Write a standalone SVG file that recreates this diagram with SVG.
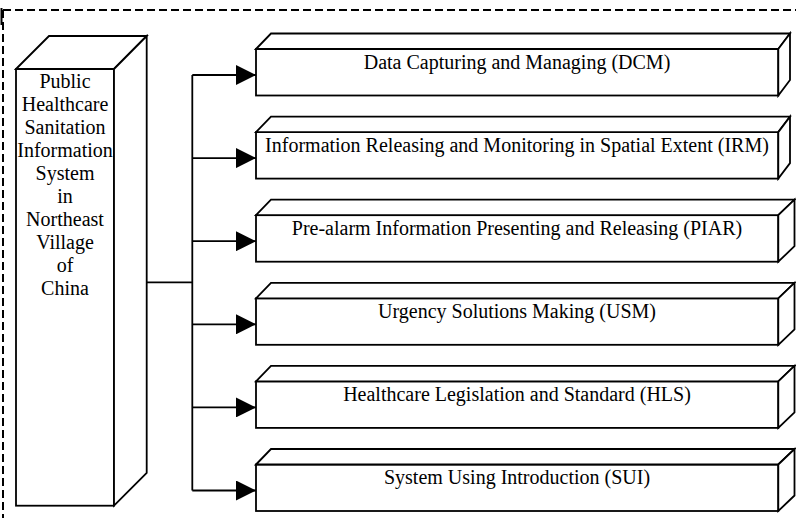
<svg xmlns="http://www.w3.org/2000/svg" width="796" height="518" viewBox="0 0 796 518">
<style>
.f{fill:#fff;stroke:#000;stroke-width:1.8;stroke-linejoin:miter}
.t{font-family:"Liberation Serif","Times New Roman",serif;font-size:20px;fill:#000;text-anchor:middle}
.c{fill:none;stroke:#000;stroke-width:1.8}
.d{fill:none;stroke:#000;stroke-width:2;stroke-dasharray:8 4}
</style>
<defs>
<marker id="ah" markerUnits="userSpaceOnUse" markerWidth="20" markerHeight="20" refX="20" refY="10" orient="auto">
<path d="M0,0 L20,10 L0,20 Z" fill="#000"/>
</marker>
</defs>
<rect width="796" height="518" fill="#fff"/>
<g id="frame">
<path class="d" d="M3,10 H796"/>
<path class="d" d="M3,10 V518"/>
<path d="M1.5,8 V25" stroke="#000" stroke-width="2"/>
</g>
<g id="main">
<rect class="f" x="16" y="69" width="98" height="436.7"/>
<polygon class="f" points="16,69 49,36 146.7,36 114,69"/>
<polygon class="f" points="114,69 146.7,36 146.7,473 114,505.7"/>
<text class="t" x="65" y="88">Public</text>
<text class="t" x="65" y="111">Healthcare</text>
<text class="t" x="65" y="134">Sanitation</text>
<text class="t" x="65" y="157">Information</text>
<text class="t" x="65" y="180">System</text>
<text class="t" x="65" y="203">in</text>
<text class="t" x="65" y="226">Northeast</text>
<text class="t" x="65" y="249">Village</text>
<text class="t" x="65" y="272">of</text>
<text class="t" x="65" y="295">China</text>
</g>
<g id="connectors">
<path class="c" d="M146.7,282.3 H192.3"/>
<path class="c" d="M192.3,75 V490.5"/>
<path class="c" d="M192.3,75 H256" marker-end="url(#ah)"/>
<path class="c" d="M192.3,158.1 H256" marker-end="url(#ah)"/>
<path class="c" d="M192.3,241.2 H256" marker-end="url(#ah)"/>
<path class="c" d="M192.3,324.3 H256" marker-end="url(#ah)"/>
<path class="c" d="M192.3,407.4 H256" marker-end="url(#ah)"/>
<path class="c" d="M192.3,490.5 H256" marker-end="url(#ah)"/>
</g>
<g id="dcm">
<rect class="f" x="256" y="49" width="522.3" height="46.5"/>
<polygon class="f" points="256,49 271,33.5 790,33.5 778.3,49"/>
<polygon class="f" points="778.3,49 790,33.5 790,80 778.3,95.5"/>
<text class="t" x="517" y="68.5">Data Capturing and Managing (DCM)</text>
</g>
<g id="irm">
<rect class="f" x="256" y="132.1" width="522.3" height="46.5"/>
<polygon class="f" points="256,132.1 271,116.6 790,116.6 778.3,132.1"/>
<polygon class="f" points="778.3,132.1 790,116.6 790,163.1 778.3,178.6"/>
<text class="t" x="517" y="151.6">Information Releasing and Monitoring in Spatial Extent (IRM)</text>
</g>
<g id="piar">
<rect class="f" x="256" y="215.2" width="522.3" height="46.5"/>
<polygon class="f" points="256,215.2 271,199.7 794.5,199.7 778.3,215.2"/>
<polygon class="f" points="778.3,215.2 794.5,199.7 794.5,246.2 778.3,261.7"/>
<text class="t" x="517" y="234.7">Pre-alarm Information Presenting and Releasing (PIAR)</text>
</g>
<g id="usm">
<rect class="f" x="256" y="298.3" width="522.3" height="46.5"/>
<polygon class="f" points="256,298.3 271,282.8 794.5,282.8 778.3,298.3"/>
<polygon class="f" points="778.3,298.3 794.5,282.8 794.5,329.3 778.3,344.8"/>
<text class="t" x="517" y="317.8">Urgency Solutions Making (USM)</text>
</g>
<g id="hls">
<rect class="f" x="256" y="381.4" width="522.3" height="46.5"/>
<polygon class="f" points="256,381.4 271,365.9 794.5,365.9 778.3,381.4"/>
<polygon class="f" points="778.3,381.4 794.5,365.9 794.5,412.4 778.3,427.9"/>
<text class="t" x="517" y="400.9">Healthcare Legislation and Standard (HLS)</text>
</g>
<g id="sui">
<rect class="f" x="256" y="464.5" width="522.3" height="46.5"/>
<polygon class="f" points="256,464.5 271,449 794.5,449 778.3,464.5"/>
<polygon class="f" points="778.3,464.5 794.5,449 794.5,495.5 778.3,511"/>
<text class="t" x="517" y="484">System Using Introduction (SUI)</text>
</g>
</svg>
